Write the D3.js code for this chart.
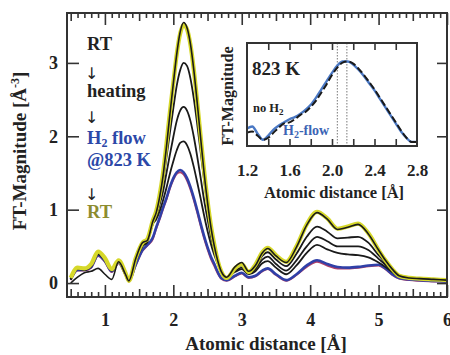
<!DOCTYPE html>
<html>
<head>
<meta charset="utf-8">
<script src="https://cdn.jsdelivr.net/npm/d3@7/dist/d3.min.js"></script>
<style>
  html, body { margin: 0; padding: 0; background: #fff; }
  svg { display: block; font-family: "Liberation Serif", "Times New Roman", serif; font-weight: bold; }
</style>
</head>
<body>
<div id="chart"></div>
<script>
// shared x grid (Atomic distance, Å)
const distance = [0.5, 0.6, 0.7, 0.8, 0.9, 1.0, 1.1, 1.2, 1.3, 1.35, 1.45, 1.55, 1.62,
  1.7, 1.75, 1.8, 1.85, 1.9, 1.95, 2.0, 2.05, 2.1, 2.15, 2.2, 2.25, 2.3, 2.35, 2.4, 2.45,
  2.5, 2.55, 2.6, 2.65, 2.7, 2.78,
  2.9, 3.0, 3.1, 3.2, 3.3, 3.38, 3.5, 3.65, 3.8, 3.95, 4.1, 4.25, 4.4, 4.55, 4.7, 4.85,
  5.0, 5.1, 5.2, 5.3, 5.45, 5.6, 5.8, 6.0];

// FT-magnitude series
const rtFinal = [0.07, 0.21, 0.2, 0.26, 0.43, 0.34, 0.19, 0.31, 0.14, 0.03, 0.34, 0.55, 0.6,
  0.85, 0.98, 1.2, 1.5, 1.9, 2.33, 2.73, 3.12, 3.4, 3.52, 3.46, 3.25, 2.9, 2.46, 1.99, 1.53, 1.12, 0.78, 0.52, 0.3, 0.16, 0.07,
  0.2, 0.26, 0.15, 0.25, 0.42, 0.48, 0.38, 0.29, 0.5, 0.8, 0.97, 0.88, 0.74, 0.77, 0.81, 0.68, 0.45, 0.31, 0.19, 0.1, 0.07, 0.06, 0.05, 0.04];
const rtStart = [0.0, 0.08, 0.14, 0.16, 0.2, 0.12, 0.05, 0.29, 0.12, 0.03, 0.33, 0.55, 0.58,
  0.84, 0.96, 1.17, 1.46, 1.86, 2.3, 2.72, 3.12, 3.42, 3.55, 3.48, 3.26, 2.9, 2.45, 1.97, 1.5, 1.1, 0.76, 0.5, 0.3, 0.16, 0.08,
  0.22, 0.28, 0.16, 0.24, 0.41, 0.47, 0.37, 0.28, 0.49, 0.79, 0.96, 0.87, 0.73, 0.76, 0.8, 0.67, 0.45, 0.31, 0.19, 0.1, 0.07, 0.06, 0.05, 0.04];
const heat1 = [0.05, 0.2, 0.19, 0.24, 0.41, 0.33, 0.18, 0.3, 0.13, 0.03, 0.32, 0.53, 0.58,
  0.82, 0.95, 1.13, 1.39, 1.71, 2.05, 2.38, 2.69, 2.9, 3.0, 2.96, 2.79, 2.51, 2.16, 1.78, 1.4, 1.05, 0.76, 0.52, 0.32, 0.17, 0.08,
  0.2, 0.24, 0.15, 0.22, 0.37, 0.42, 0.32, 0.23, 0.4, 0.63, 0.77, 0.7, 0.61, 0.62, 0.63, 0.55, 0.38, 0.28, 0.17, 0.1, 0.07, 0.06, 0.05, 0.04];
const heat2 = [0.05, 0.19, 0.18, 0.23, 0.4, 0.32, 0.17, 0.3, 0.12, 0.03, 0.31, 0.52, 0.57,
  0.81, 0.91, 1.07, 1.25, 1.5, 1.75, 1.99, 2.21, 2.35, 2.4, 2.35, 2.21, 1.99, 1.72, 1.43, 1.13, 0.87, 0.63, 0.44, 0.3, 0.17, 0.08,
  0.17, 0.21, 0.14, 0.19, 0.32, 0.36, 0.26, 0.17, 0.31, 0.5, 0.63, 0.57, 0.5, 0.5, 0.5, 0.45, 0.33, 0.25, 0.16, 0.09, 0.07, 0.06, 0.05, 0.04];
const heat3 = [0.05, 0.19, 0.18, 0.23, 0.39, 0.31, 0.17, 0.29, 0.12, 0.03, 0.3, 0.5, 0.56,
  0.8, 0.87, 0.98, 1.13, 1.3, 1.49, 1.66, 1.81, 1.91, 1.93, 1.88, 1.76, 1.58, 1.37, 1.15, 0.92, 0.71, 0.53, 0.38, 0.26, 0.15, 0.08,
  0.15, 0.19, 0.12, 0.16, 0.27, 0.3, 0.21, 0.12, 0.24, 0.41, 0.52, 0.46, 0.41, 0.39, 0.38, 0.35, 0.28, 0.22, 0.15, 0.09, 0.07, 0.06, 0.05, 0.04];
const h2Flow = [0.05, 0.18, 0.18, 0.22, 0.38, 0.3, 0.16, 0.28, 0.12, 0.03, 0.25, 0.45, 0.52,
  0.62, 0.76, 0.89, 1.03, 1.16, 1.31, 1.43, 1.51, 1.54, 1.51, 1.43, 1.31, 1.16, 0.99, 0.81, 0.64, 0.49, 0.36, 0.26, 0.15, 0.07, 0.04,
  0.1, 0.14, 0.08, 0.1, 0.17, 0.2, 0.12, 0.04, 0.12, 0.24, 0.31, 0.26, 0.22, 0.21, 0.22, 0.24, 0.25, 0.2, 0.12, 0.07, 0.05, 0.04, 0.03, 0.02];
const h2Flow2 = [0.04, 0.17, 0.17, 0.21, 0.37, 0.29, 0.15, 0.27, 0.11, 0.02, 0.24, 0.44, 0.51,
  0.6, 0.74, 0.87, 1.01, 1.14, 1.29, 1.41, 1.49, 1.51, 1.48, 1.4, 1.28, 1.13, 0.96, 0.78, 0.61, 0.46, 0.33, 0.23, 0.13, 0.06, 0.03,
  0.09, 0.13, 0.07, 0.09, 0.16, 0.19, 0.11, 0.03, 0.11, 0.22, 0.29, 0.24, 0.2, 0.2, 0.21, 0.23, 0.24, 0.19, 0.11, 0.06, 0.04, 0.03, 0.02, 0.02];

// inset (823 K, normalised)
const insetDistance = [1.2, 1.25, 1.3, 1.35, 1.4, 1.45, 1.5, 1.55, 1.6, 1.65, 1.7, 1.75, 1.8, 1.85,
  1.9, 1.95, 2.0, 2.05, 2.1, 2.15, 2.2, 2.25, 2.3, 2.35, 2.4, 2.45, 2.5, 2.55, 2.6, 2.65, 2.7, 2.75, 2.8];
const insetH2 = [0.17, 0.19, 0.12, 0.06, 0.1, 0.16, 0.2, 0.23, 0.26, 0.28, 0.31, 0.35, 0.4, 0.47,
  0.55, 0.63, 0.71, 0.78, 0.82, 0.82, 0.79, 0.74, 0.68, 0.61, 0.54, 0.46, 0.38, 0.3, 0.22, 0.14, 0.08, 0.04, 0.04];
const insetNoH2 = [0.13, 0.14, 0.1, 0.06, 0.08, 0.13, 0.18, 0.22, 0.23, 0.26, 0.3, 0.33, 0.38, 0.44,
  0.52, 0.6, 0.69, 0.76, 0.81, 0.82, 0.8, 0.75, 0.69, 0.62, 0.55, 0.47, 0.39, 0.31, 0.23, 0.15, 0.08, 0.04, 0.04];
const insetMarks = [2.05, 2.14];

const xTicks = [1, 2, 3, 4, 5, 6];
const yTicks = [0, 1, 2, 3];
const insetTicks = [1.2, 1.6, 2.0, 2.4, 2.8];

const width = 450, height = 355;
const plot = { left: 67, right: 447, top: 13, bottom: 297 };

const svg = d3.select('#chart').append('svg')
  .attr('width', width).attr('height', height);

const x = d3.scaleLinear().domain([0.446, 6]).range([plot.left, plot.right]);
const y = d3.scaleLinear().domain([-0.19, 3.68]).range([plot.bottom, plot.top]);

svg.append('clipPath').attr('id', 'clip')
  .append('rect')
  .attr('x', plot.left).attr('y', plot.top)
  .attr('width', plot.right - plot.left).attr('height', plot.bottom - plot.top);

const line = d3.line()
  .x((d, i) => x(distance[i]))
  .y(d => y(d))
  .curve(d3.curveMonotoneX);

const curves = svg.append('g').attr('clip-path', 'url(#clip)');

// back to front
const series = [
  { v: h2Flow2, color: '#b0406a', w: 2 },
  { v: h2Flow, color: '#3040a8', w: 2.6 },
  { v: heat3, color: '#1a1a1a', w: 1.8 },
  { v: heat2, color: '#1a1a1a', w: 1.8 },
  { v: heat1, color: '#1a1a1a', w: 1.8 },
  { v: rtFinal, color: '#d6d82a', w: 4.2 },
  { v: rtStart, color: '#1a1a1a', w: 1.6 },
];
series.forEach(s => {
  curves.append('path')
    .attr('d', line(s.v))
    .attr('fill', 'none')
    .attr('stroke', s.color)
    .attr('stroke-width', s.w)
    .attr('stroke-linejoin', 'round');
});

// axes: ticks point inward
function tickAxis(axis, scale, vals, size, tr) {
  const g = svg.append('g')
    .attr('transform', tr)
    .call(axis(scale).tickValues(vals).tickSizeInner(-size).tickSizeOuter(0).tickFormat(''));
  g.select('.domain').remove();
  g.selectAll('line').attr('stroke', '#333').attr('stroke-width', 1.6);
  return g;
}
const tenths = d3.range(5, 61).filter(d => d % 5 !== 0).map(d => d / 10);
const halves = [0.5, 1.5, 2.5, 3.5, 4.5, 5.5];
[[d3.axisBottom, `translate(0,${plot.bottom})`], [d3.axisTop, `translate(0,${plot.top})`]].forEach(([ax, tr]) => {
  tickAxis(ax, x, tenths, 5, tr);
  tickAxis(ax, x, halves, 8, tr);
  tickAxis(ax, x, xTicks, 12, tr);
});
tickAxis(d3.axisLeft, y, yTicks, 12, `translate(${plot.left},0)`);
tickAxis(d3.axisRight, y, yTicks, 10, `translate(${plot.right},0)`);

// tick labels
const xl = svg.append('g')
  .attr('transform', `translate(0,${plot.bottom})`)
  .call(d3.axisBottom(x).tickValues(xTicks).tickSize(0).tickPadding(16).tickFormat(d3.format('d')));
xl.select('.domain').remove();
xl.selectAll('text').attr('font-size', 18).attr('fill', '#222')
  .attr('font-family', '"Liberation Serif", serif').attr('font-weight', 'bold');

const yl = svg.append('g')
  .attr('transform', `translate(${plot.left},0)`)
  .call(d3.axisLeft(y).tickValues(yTicks).tickSize(0).tickPadding(9).tickFormat(d3.format('d')));
yl.select('.domain').remove();
yl.selectAll('text').attr('font-size', 18).attr('fill', '#222')
  .attr('font-family', '"Liberation Serif", serif').attr('font-weight', 'bold');

svg.append('rect')
  .attr('x', plot.left).attr('y', plot.top)
  .attr('width', plot.right - plot.left).attr('height', plot.bottom - plot.top)
  .attr('fill', 'none').attr('stroke', '#333').attr('stroke-width', 2);

// axis titles
svg.append('text')
  .attr('x', 266).attr('y', 350)
  .attr('text-anchor', 'middle').attr('font-size', 19).attr('fill', '#222')
  .text('Atomic distance [Å]');

const yt = svg.append('text')
  .attr('transform', 'translate(26,151) rotate(-90)')
  .attr('text-anchor', 'middle').attr('font-size', 19).attr('fill', '#222');
yt.append('tspan').text('FT-Magnitude [Å');
yt.append('tspan').attr('font-size', 12).attr('dy', -7).text('-3');
yt.append('tspan').attr('dy', 7).text(']');

// legend text
const legend = [
  { t: 'RT', y: 50, c: '#222' },
  { t: '↓', y: 79, c: '#222', arrow: true },
  { t: 'heating', y: 97, c: '#222' },
  { t: '↓', y: 123, c: '#222', arrow: true },
  { t: 'H|2| flow', y: 144, c: '#2c48a8' },
  { t: '@823 K', y: 166, c: '#2c48a8' },
  { t: '↓', y: 200, c: '#222', arrow: true },
  { t: 'RT', y: 218, c: '#8c8c30' },
];
legend.forEach(l => {
  const t = svg.append('text')
    .attr('x', l.arrow ? 85 : 87).attr('y', l.y)
    .attr('fill', l.c)
    .attr('font-size', l.arrow ? 16 : 18.5)
    .attr('font-family', l.arrow ? '"DejaVu Sans", sans-serif' : null)
    .attr('font-weight', l.arrow ? 'normal' : 'bold');
  const parts = l.t.split('|');
  parts.forEach((p, i) => {
    if (i === 1) t.append('tspan').attr('dy', 3).attr('font-size', 12).text(p);
    else if (i === 2) t.append('tspan').attr('dy', -3).text(p);
    else t.append('tspan').text(p);
  });
});

// ---- inset ----
const inset = { left: 247, right: 417, top: 43, bottom: 146 };
const ix = d3.scaleLinear().domain([1.2, 2.8]).range([inset.left, inset.right]);
const iy = d3.scaleLinear().domain([0, 1]).range([inset.bottom, inset.top]);

svg.append('rect')
  .attr('x', inset.left).attr('y', inset.top)
  .attr('width', inset.right - inset.left).attr('height', inset.bottom - inset.top)
  .attr('fill', '#fff');

insetMarks.forEach(m => {
  svg.append('line')
    .attr('x1', ix(m)).attr('x2', ix(m))
    .attr('y1', inset.top).attr('y2', inset.bottom)
    .attr('stroke', '#777').attr('stroke-width', 1)
    .attr('stroke-dasharray', '1.5,1.5');
});

const iline = d3.line()
  .x((d, i) => ix(insetDistance[i]))
  .y(d => iy(d))
  .curve(d3.curveMonotoneX);
svg.append('path').attr('d', iline(insetH2))
  .attr('fill', 'none').attr('stroke', '#4a78c4').attr('stroke-width', 2.4);
svg.append('path').attr('d', iline(insetNoH2))
  .attr('fill', 'none').attr('stroke', '#1a1a1a').attr('stroke-width', 2)
  .attr('stroke-dasharray', '7,3');

const insetMinor = [1.4, 1.6, 1.8, 2.0, 2.2, 2.4, 2.6];
[[d3.axisBottom, `translate(0,${inset.bottom})`], [d3.axisTop, `translate(0,${inset.top})`]].forEach(([ax, tr]) => {
  tickAxis(ax, ix, insetMinor, 7, tr);
});

svg.append('rect')
  .attr('x', inset.left).attr('y', inset.top)
  .attr('width', inset.right - inset.left).attr('height', inset.bottom - inset.top)
  .attr('fill', 'none').attr('stroke', '#333').attr('stroke-width', 2);

const il = svg.append('g')
  .attr('transform', `translate(0,${inset.bottom})`)
  .call(d3.axisBottom(ix).tickValues(insetTicks).tickSize(0).tickPadding(18).tickFormat(d3.format('.1f')));
il.select('.domain').remove();
il.selectAll('text').attr('font-size', 17).attr('fill', '#222')
  .attr('font-family', '"Liberation Serif", serif').attr('font-weight', 'bold');

svg.append('text')
  .attr('x', 334).attr('y', 198)
  .attr('text-anchor', 'middle').attr('font-size', 16.5).attr('fill', '#222')
  .text('Atomic distance [Å]');

svg.append('text')
  .attr('transform', 'translate(233,96) rotate(-90)')
  .attr('text-anchor', 'middle').attr('font-size', 16).attr('fill', '#222')
  .text('FT-Magnitude');

svg.append('text')
  .attr('x', 252).attr('y', 75)
  .attr('font-size', 19).attr('fill', '#222')
  .text('823 K');

const noH = svg.append('text')
  .attr('x', 253).attr('y', 112)
  .attr('font-size', 12.5).attr('fill', '#222');
noH.append('tspan').text('no H');
noH.append('tspan').attr('dy', 3).attr('font-size', 9).text('2');

const hf = svg.append('text')
  .attr('x', 283).attr('y', 135)
  .attr('font-size', 14).attr('fill', '#3c64b4');
hf.append('tspan').text('H');
hf.append('tspan').attr('dy', 3).attr('font-size', 10).text('2');
hf.append('tspan').attr('dy', -3).text('-flow');
</script>
</body>
</html>
